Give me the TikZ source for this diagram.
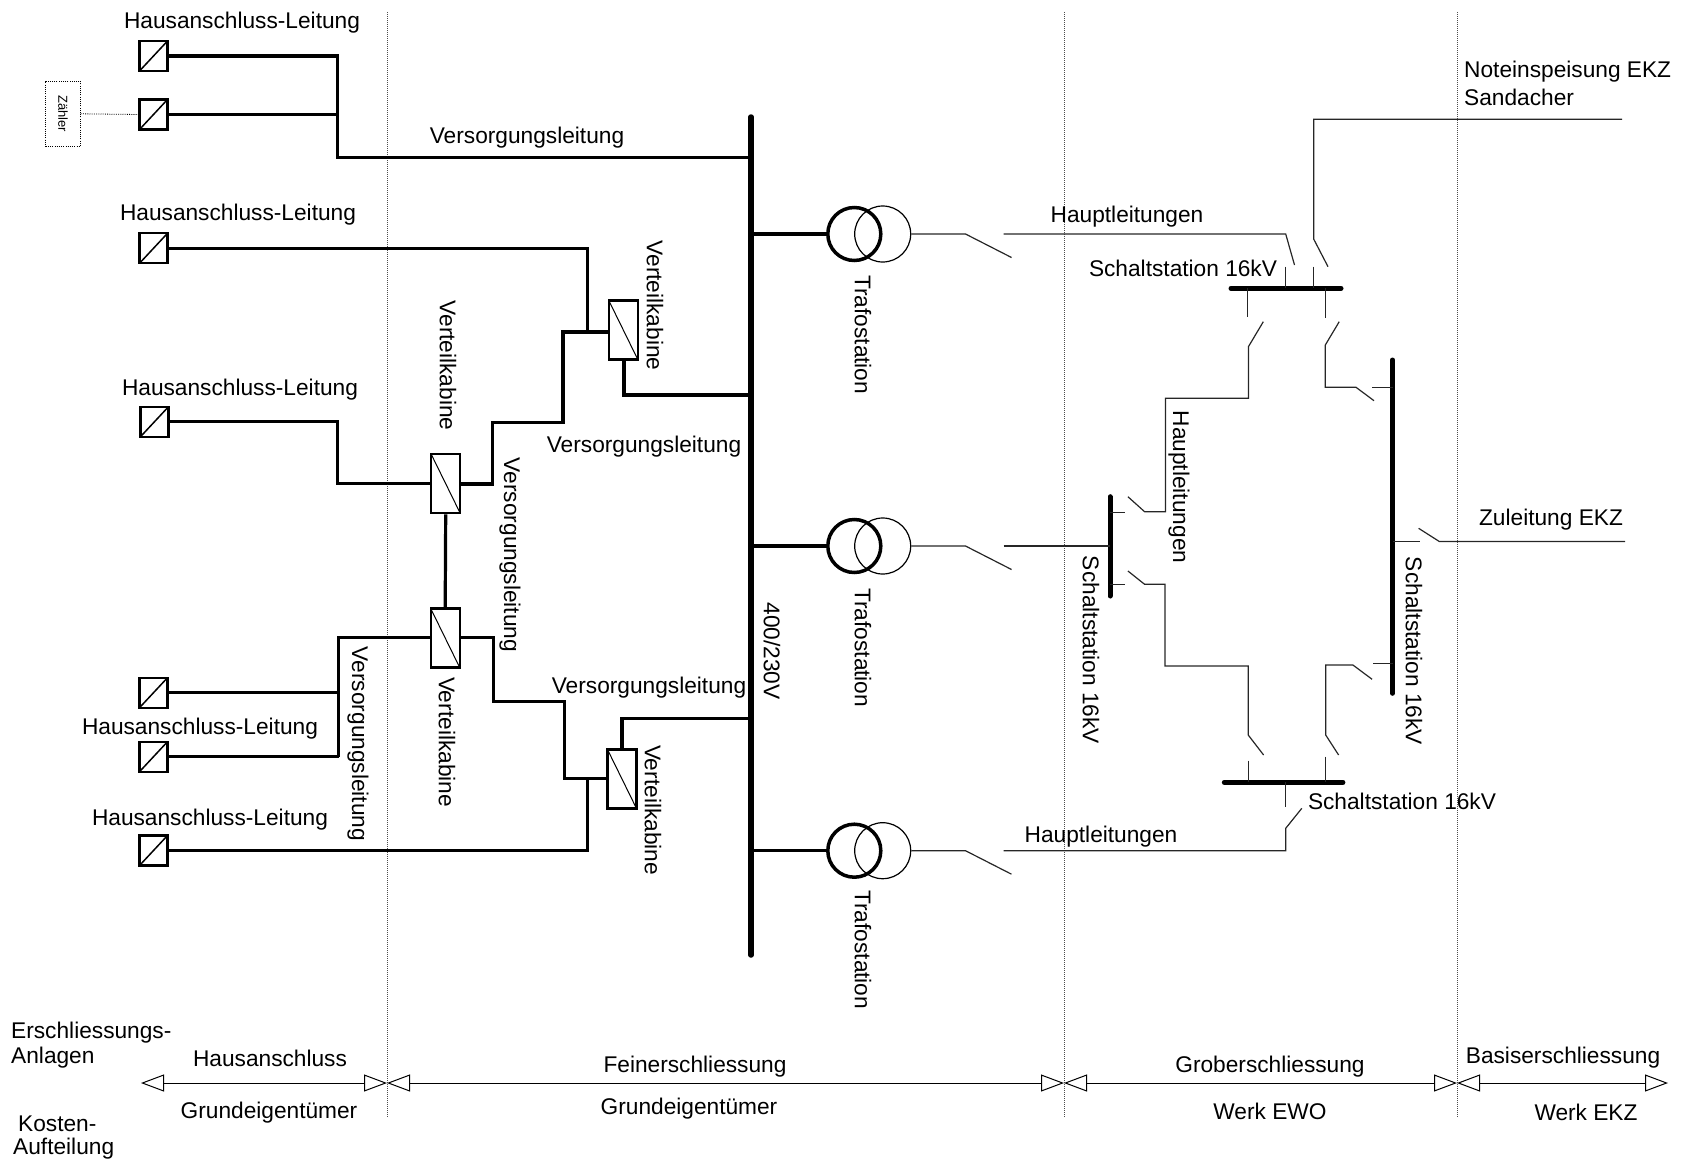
\documentclass[tikz,border=0pt]{standalone}
\usepackage{fontspec}
\setmainfont{Liberation Sans}
\usetikzlibrary{arrows.meta}
\begin{document}
\begin{tikzpicture}[x=1pt,y=-1pt,
  every node/.style={font=\fontsize{22.7}{26}\selectfont, inner sep=0pt},
  lv/.style={line width=3.2pt},
  hv/.style={line width=1.2pt, black!85},
  busbar/.style={line width=5.5pt, line cap=round},
  sbus/.style={line width=5pt, line cap=round},
  hbox/.style={draw, line width=2.3pt, minimum width=28pt, minimum height=30pt,
    path picture={\draw[line width=1.5pt] (path picture bounding box.south west) -- (path picture bounding box.north east);}},
  vbox/.style={draw, line width=2.3pt, minimum width=29pt, minimum height=59pt,
    path picture={\draw[line width=1pt] (path picture bounding box.north west) -- (path picture bounding box.south east);}},
  vlab/.style={rotate=-90},
  trafoA/.style={circle, draw, line width=3.5pt, minimum size=53pt},
  trafoB/.style={circle, draw, line width=1.2pt, minimum size=56pt},
  sep/.style={black!70, line width=0.8pt, dash pattern=on 1pt off 1pt},
  cost/.style={line width=1pt, {Triangle[open,length=23pt,width=17pt]}-{Triangle[open,length=23pt,width=17pt]}}
]
\useasboundingbox (0,0) rectangle (1686,1167);

% separators
\coordinate (d1t) at (387,12);   \coordinate (d1b) at (387,1117);
\coordinate (d2t) at (1064,12);  \coordinate (d2b) at (1064,1117);
\coordinate (d3t) at (1457,12);  \coordinate (d3b) at (1457,1117);
\draw[sep] (d1t) -- (d1b);
\draw[sep] (d2t) -- (d2b);
\draw[sep] (d3t) -- (d3b);

% main 400/230V bus
\coordinate (bt) at (751,117);
\coordinate (bb) at (751,955);
\draw[busbar] (bt) -- (bb);

% house connection boxes
\node[hbox] (a1) at (153.5,56) {};
\node[hbox] (a2) at (153.5,114.5) {};
\node[hbox] (b) at (153.5,248.3) {};
\node[hbox] (c) at (154.5,421.7) {};
\node[hbox] (d) at (153.5,692.7) {};
\node[hbox] (e) at (153.5,756.7) {};
\node[hbox] (f) at (153.5,850.5) {};

% Zaehler
\node[draw, line width=0.8pt, dash pattern=on 1pt off 1.2pt, minimum width=34.6pt, minimum height=65.7pt] (z) at (63,113.8) {};
\node[vlab, font=\fontsize{13}{15}\selectfont] (zt) at (z.center) {Zähler};
\draw[line width=0.8pt, dash pattern=on 1pt off 1.2pt] (z.east) -- (a2.west);

% distribution cabins
\node[vbox] (k1) at (623.3,330) {};
\node[vbox] (k2) at (445.7,483.7) {};
\node[vbox] (k3) at (445.2,638) {};
\node[vbox] (k4) at (622,779) {};

% low voltage lines
\draw[lv] (a1.east) -- (337.7,56) -- (337.7,157.3) -- (751,157.3);
\draw[lv] (a2.east) -- (337.7,114.5);
\draw[lv] (b.east) -- (587.3,248.3) -- (587.3,332);
\draw[lv] (k1.west |- 0,332) -- (563,332) -- (563,422.3) -- (492.7,422.3) -- (492.7,484) -- (k2.east |- 0,484);
\draw[lv] (k1.south -| 624,0) -- (624,395) -- (751,395);
\draw[lv] (c.east) -- (337.7,421.7) -- (337.7,483.5) -- (k2.west |- 0,483.5);
\draw[lv] (k2.south) -- (k3.north);
\draw[lv] (k3.west |- 0,637.5) -- (338.7,637.5) -- (338.7,756.7);
\draw[lv] (d.east) -- (338.7,692.7);
\draw[lv] (e.east) -- (338.7,756.7);
\draw[lv] (k3.east |- 0,637.5) -- (493.3,637.5) -- (493.3,701.7) -- (564.3,701.7) -- (564.3,778.3) -- (k4.west |- 0,778.3);
\draw[lv] (k4.north) -- (622,718.3) -- (751,718.3);
\draw[lv] (f.east) -- (587.3,850.5) -- (587.3,778.3);

% transformers
\node[trafoB] (t1b) at (882.7,234) {};
\node[trafoA] (t1a) at (854.3,234) {};
\node[trafoB] (t2b) at (882.7,546) {};
\node[trafoA] (t2a) at (854.3,546) {};
\node[trafoB] (t3b) at (882.7,850.7) {};
\node[trafoA] (t3a) at (854.3,850.7) {};
\draw[lv] (751,234) -- (t1a.west);
\draw[lv] (751,546) -- (t2a.west);
\draw[lv] (751,850.7) -- (t3a.west);

% high voltage: transformer switches
\draw[hv] (t1b.east) -- (965.5,234) -- (1011.5,257.5);
\draw[hv] (t2b.east) -- (965.5,546) -- (1011.5,569.5);
\draw[hv] (t3b.east) -- (965.5,850.7) -- (1011.5,874.2);

% switching station buses
\coordinate (s1l) at (1231,288.3); \coordinate (s1r) at (1341,288.3);
\coordinate (s2t) at (1110,496.7); \coordinate (s2b) at (1110,596);
\coordinate (s3t) at (1392.5,360); \coordinate (s3b) at (1392.5,693.3);
\coordinate (s4l) at (1224.3,782.3); \coordinate (s4r) at (1342.9,782.3);
\draw[sbus] (s1l) -- (s1r);
\draw[sbus] (s2t) -- (s2b);
\draw[sbus] (s3t) -- (s3b);
\draw[sbus] (s4l) -- (s4r);

% top Hauptleitung to S1
\draw[hv] (1003.5,234) -- (1285.7,234) -- (1294.5,265);
\draw[hv] (1285.7,266.7) -- (1285.7,288.3);
% Noteinspeisung
\draw[hv] (1622,119.3) -- (1313.8,119.3) -- (1313.8,239.3) -- (1328,266.7);
\draw[hv] (1313.8,266.7) -- (1313.8,288.3);
% S1 to S2
\draw[hv] (1247.6,288.3) -- (1247.6,317.3);
\draw[hv] (1263.3,321.7) -- (1248.4,346.7) -- (1248.4,398.3) -- (1165.4,398.3) -- (1165.4,511.7) -- (1144.6,511.7) -- (1127.9,496.7);
\draw[hv] (1110,512.7) -- (1125,512.7);
% S1 to S3
\draw[hv] (1325.3,288.3) -- (1325.3,318.3);
\draw[hv] (1339.2,321.7) -- (1325.3,345) -- (1325.3,387.3) -- (1356,387.3) -- (1374,400.7);
\draw[hv] (1372,387.3) -- (1392.5,387.3);
% middle trafo to S2
\draw[hv] (1003.5,546) -- (1110,546);
% S2 to S4
\draw[hv] (1110,584.3) -- (1125,584.3);
\draw[hv] (1127.9,571) -- (1144.6,584.3) -- (1165,584.3) -- (1165,666) -- (1248.2,666) -- (1248.2,735) -- (1263.6,755);
\draw[hv] (1248.2,760.7) -- (1248.2,782.3);
% S3 to S4
\draw[hv] (1373,663.3) -- (1392.5,663.3);
\draw[hv] (1372.1,679.3) -- (1352.9,665) -- (1325.7,665) -- (1325.7,735) -- (1338.6,755);
\draw[hv] (1325.7,756.7) -- (1325.7,782.3);
% S4 to bottom trafo
\draw[hv] (1285.7,782.3) -- (1285.7,806.7);
\draw[hv] (1301.8,808.3) -- (1285.7,828.3) -- (1285.7,850.7) -- (1003.5,850.7);
% Zuleitung EKZ
\draw[hv] (1392.5,541.5) -- (1419.6,541.5);
\draw[hv] (1418.6,528.3) -- (1439.3,541.5) -- (1625,541.5);

% labels
\node (l1) at (242,23) {Hausanschluss-Leitung};
\node (l2) at (238,215) {Hausanschluss-Leitung};
\node (l3) at (240,390) {Hausanschluss-Leitung};
\node (l4) at (200,729) {Hausanschluss-Leitung};
\node (l5) at (210,820) {Hausanschluss-Leitung};
\node (v1) at (527,138) {Versorgungsleitung};
\node (v2) at (644,447) {Versorgungsleitung};
\node (v3) at (649,688) {Versorgungsleitung};
\node[vlab] (v4) at (510,555) {Versorgungsleitung};
\node[vlab] (v5) at (358,744) {Versorgungsleitung};
\node[vlab] (k1l) at (655,305.5) {Verteilkabine};
\node[vlab] (k2l) at (448,365.5) {Verteilkabine};
\node[vlab] (k3l) at (447,742) {Verteilkabine};
\node[vlab] (k4l) at (653,810) {Verteilkabine};
\node[vlab] (bl) at (772,651) {400/230V};
\node[vlab, anchor=west] (t1l) at (863,275) {Trafostation};
\node[vlab, anchor=west] (t2l) at (863,588) {Trafostation};
\node[vlab, anchor=west] (t3l) at (863,890) {Trafostation};
\node (h1) at (1127,217) {Hauptleitungen};
\node (h2) at (1101,837) {Hauptleitungen};
\node[vlab] (h3) at (1179,487) {Hauptleitungen};
\node (s1lab) at (1183,268) {Schaltstation 16kV};
\node[vlab] (s2lab) at (1091,650) {Schaltstation 16kV};
\node[vlab] (s3lab) at (1414,651) {Schaltstation 16kV};
\node (s4lab) at (1402,801) {Schaltstation 16kV};
\node (zl) at (1551,520) {Zuleitung EKZ};
\node[anchor=west] (n1) at (1464,72) {Noteinspeisung EKZ};
\node[anchor=west] (n2) at (1464,97) {Sandacher};

% cost split
\coordinate (p0) at (141,1083);
\coordinate (p1) at (387,1083);
\coordinate (p2) at (1064,1083);
\coordinate (p3) at (1457,1083);
\coordinate (p4) at (1668,1083);
\draw[cost] (p0) -- (p1);
\draw[cost] (p1) -- (p2);
\draw[cost] (p2) -- (p3);
\draw[cost] (p3) -- (p4);

\node[anchor=west] (e1) at (11,1033) {Erschliessungs-};
\node[anchor=west] (e2) at (11,1058) {Anlagen};
\node[anchor=west] (k5) at (18,1124) {Kosten-};
\node[anchor=west] (k6) at (13,1149) {Aufteilung};
\node (c1) at (270,1058) {Hausanschluss};
\node (c2) at (695,1067) {Feinerschliessung};
\node (c3) at (1270,1067) {Groberschliessung};
\node (c4) at (1563,1058) {Basiserschliessung};
\node (o1) at (269,1113) {Grundeigentümer};
\node (o2) at (689,1109) {Grundeigentümer};
\node (o3) at (1270,1111) {Werk EWO};
\node (o4) at (1586,1112) {Werk EKZ};
\end{tikzpicture}
\end{document}
